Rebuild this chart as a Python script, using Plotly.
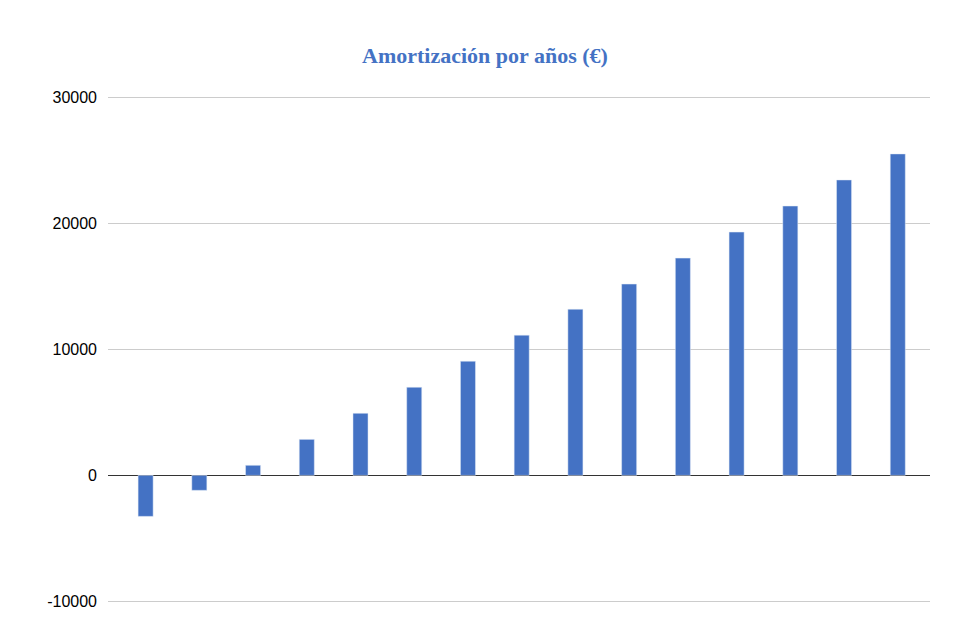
import plotly.graph_objects as go

years = list(range(1, 16))
amortizacion = [-3260, -1190, 800, 2860, 4930, 7000, 9070, 11140, 13200,
                15200, 17260, 19330, 21400, 23470, 25540]
tick_vals = [-10000, 0, 10000, 20000, 30000]
tick_text = ["-10000", "0", "10000", "20000", "30000"]

fig = go.Figure(
    go.Bar(x=years, y=amortizacion, marker_color="#4472c4", width=0.28)
)

fig.update_layout(
    width=954,
    height=635,
    plot_bgcolor="white",
    paper_bgcolor="white",
    margin=dict(l=100, r=32, t=86, b=38, autoexpand=False),
    title=dict(
        text="<b>Amortización por años (€)</b>",
        x=0.5,
        xanchor="center",
        y=1 - 47 / 635,
        yanchor="middle",
        font=dict(family="Liberation Serif", size=22, color="#4472c4"),
    ),
    showlegend=False,
)
fig.update_xaxes(showticklabels=False, showgrid=False, range=[0.3, 15.6],
                 automargin=False)
fig.update_yaxes(
    range=[-10300, 30300],
    tickvals=tick_vals,
    ticktext=tick_text,
    gridcolor="#cccccc",
    zeroline=True,
    zerolinecolor="#333333",
    zerolinewidth=1,
    tickfont=dict(family="Liberation Sans", size=16, color="black"),
    ticklabelstandoff=10,
    automargin=False,
)

fig.write_html("out.html")
